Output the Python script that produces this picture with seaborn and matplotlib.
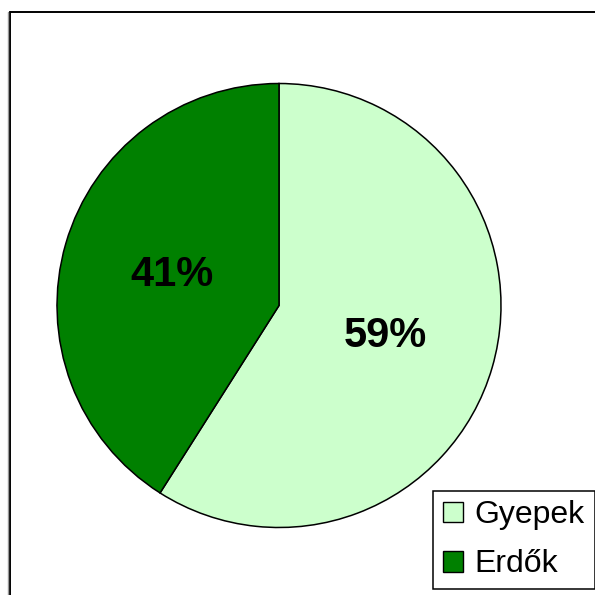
import matplotlib
matplotlib.use("Agg")
import matplotlib.pyplot as plt
import seaborn as sns
from matplotlib.lines import Line2D

categories = ["Gyepek", "Erdők"]
values = [59, 41]
colors = ["#CCFFCC", "#008000"]

sns.set_theme(style="white")
plt.rcParams['font.family'] = ['Liberation Sans', 'DejaVu Sans']
plt.rcParams['text.color'] = 'black'

W = 595
fig = plt.figure(figsize=(5.95, 5.95), dpi=100)
fig.patch.set_facecolor("white")

cx, cy, r = 279, 305.5, 222
ax = fig.add_axes([(cx - r) / W, (W - cy - r) / W, 2 * r / W, 2 * r / W])
wedges, texts, autotexts = ax.pie(
    values, colors=colors, startangle=90, counterclock=False,
    autopct=lambda p: f"{p:.0f}%", pctdistance=0.5,
    wedgeprops=dict(edgecolor="black", linewidth=1.1),
    textprops=dict(fontsize=30, fontweight="bold", color="black"))
ax.set_xlim(-1, 1)
ax.set_ylim(-1, 1)
ax.set_aspect("equal")
ax.axis("off")

# outer border
lw = 1.4
fig.add_artist(Line2D([9.5 / W, 9.5 / W], [0, 1 - 11.5 / W], color="black", lw=lw, transform=fig.transFigure))
fig.add_artist(Line2D([9.5 / W, 1], [1 - 11.5 / W, 1 - 11.5 / W], color="black", lw=lw, transform=fig.transFigure))
fig.add_artist(Line2D([8 / W, 8 / W], [0, 1 - 12 / W], color="#999999", lw=1, transform=fig.transFigure))

leg = fig.legend(wedges, categories, loc="lower right",
                 bbox_to_anchor=(594.5 / W, 6 / W), bbox_transform=fig.transFigure,
                 fontsize=23, frameon=True, fancybox=False, shadow=False,
                 handlelength=0.62, handleheight=0.62, handletextpad=0.38,
                 labelspacing=0.6, borderpad=0.3, borderaxespad=0)
leg.get_frame().set_edgecolor("black")
leg.get_frame().set_linewidth(1.1)
leg.get_frame().set_alpha(None)
for t in leg.get_texts():
    t.set_color("black")
for h in leg.legend_handles:
    h.set_edgecolor("black")
    h.set_linewidth(1)

fig.savefig("out.png", dpi=100, facecolor="white")
